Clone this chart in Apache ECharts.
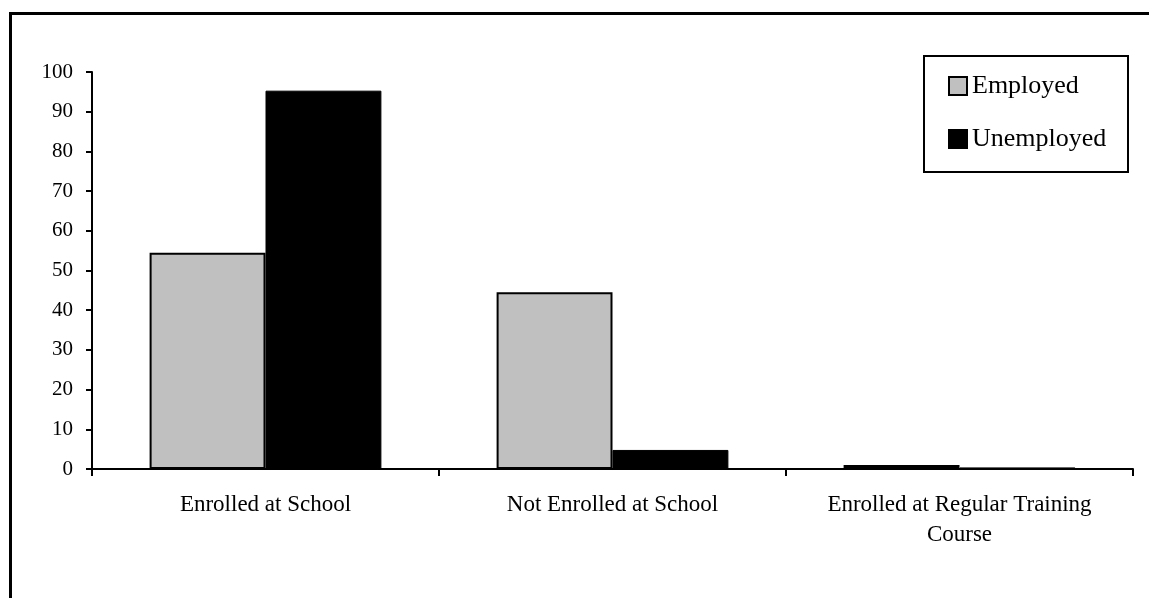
<!DOCTYPE html>
<html>
<head>
<meta charset="utf-8">
<script src="https://cdn.jsdelivr.net/npm/echarts@6/dist/echarts.min.js"></script>
<style>
html,body{margin:0;padding:0;background:#fff;}
#chart{width:1149px;height:598px;}
</style>
</head>
<body>
<div id="chart"></div>
<script>
const categories = ["Enrolled at School", "Not Enrolled at School", "Enrolled at Regular Training\nCourse"];
const employed = [54.5, 44.5, 1.0];
const unemployed = [95.3, 4.8, 0.4];
const yTicks = { min: 0, max: 100, interval: 10 };

const chart = echarts.init(document.getElementById('chart'), null, { renderer: 'canvas' });
const font = '"Liberation Serif", "Times New Roman", serif';

chart.setOption({
  animation: false,
  backgroundColor: '#fff',
  textStyle: { fontFamily: font, color: '#000' },
  grid: { left: 92, right: 16, top: 72, bottom: 129, containLabel: false },
  graphic: [
    { type: 'rect', shape: { x: 10.5, y: 13.5, width: 1300, height: 800 },
      style: { fill: 'none', stroke: '#000', lineWidth: 3 }, z: 100 },
    { type: 'rect', shape: { x: 924, y: 56, width: 204, height: 116 },
      style: { fill: '#fff', stroke: '#000', lineWidth: 2 }, z: 1 }
  ],
  legend: {
    orient: 'vertical',
    left: 948, top: 73,
    padding: 0,
    icon: 'rect',
    itemWidth: 18, itemHeight: 18,
    itemGap: 27,
    z: 10,
    textStyle: { fontFamily: font, fontSize: 26, color: '#000', padding: [2, 0, 0, 0] },
    data: ['Employed', 'Unemployed']
  },
  xAxis: {
    type: 'category',
    data: categories,
    axisLine: { lineStyle: { color: '#000', width: 2 } },
    axisTick: { show: true, length: 7, lineStyle: { color: '#000', width: 2 } },
    axisLabel: { fontFamily: font, fontSize: 23, color: '#000', margin: 21, lineHeight: 30, interval: 0 },
    splitLine: { show: false }
  },
  yAxis: {
    type: 'value',
    min: yTicks.min, max: yTicks.max, interval: yTicks.interval,
    axisLine: { show: true, lineStyle: { color: '#000', width: 2 } },
    axisTick: { show: true, length: 6, lineStyle: { color: '#000', width: 2 } },
    axisLabel: { fontFamily: font, fontSize: 21, color: '#000', margin: 19 },
    splitLine: { show: false }
  },
  series: [
    { name: 'Employed', type: 'bar', data: employed, barWidth: '33.4%', barGap: '0%',
      itemStyle: { color: '#c0c0c0', borderColor: '#000', borderWidth: 2 } },
    { name: 'Unemployed', type: 'bar', data: unemployed, barWidth: '33.4%', barGap: '0%',
      itemStyle: { color: '#000', borderColor: '#000', borderWidth: 1 } }
  ]
});
</script>
</body>
</html>
